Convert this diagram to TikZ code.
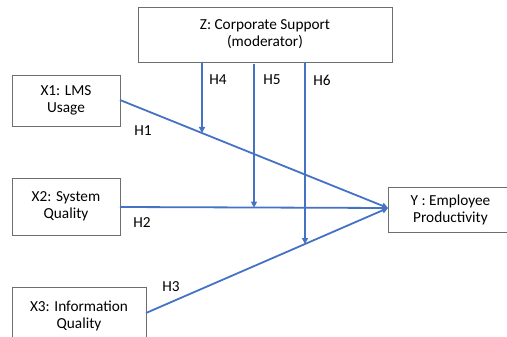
\documentclass[tikz,border=0pt]{standalone}
\usepackage{fontspec}
\setmainfont{Carlito}
\usetikzlibrary{arrows.meta}
\definecolor{lineblue}{RGB}{68,114,196}
\definecolor{boxgray}{RGB}{110,110,110}
\begin{document}
\begin{tikzpicture}[x=1pt,y=-1pt,
  box/.style={draw=boxgray,line width=0.8pt,fill=white,align=center,font=\fontsize{15.3}{17}\selectfont,inner sep=0pt},
  conn/.style={draw=lineblue,line width=1.8pt,-{Triangle[length=6pt,width=6pt]}},
  lab/.style={font=\fontsize{15.3}{17}\selectfont,inner sep=0pt}]
\useasboundingbox (0,0) rectangle (507,337);
\node[box,minimum width=254pt,minimum height=55pt] (Z) at (265,34.5) {Z: Corporate Support\\(moderator)};
\node[box,minimum width=108pt,minimum height=51pt] (X1) at (66,100.5) {X1: LMS\\Usage};
\node[box,minimum width=108pt,minimum height=57pt] (X2) at (66,206.5) {X2: System\\Quality};
\node[box,minimum width=134pt,minimum height=57pt] (X3) at (79,315.5) {X3: Information\\Quality};
\node[box,minimum width=125pt,minimum height=45pt] (Y) at (450.5,209.5) {Y : Employee\\Productivity};
\coordinate (X1e) at (120,100);
\coordinate (X2e) at (120,207);
\coordinate (X3e) at (146,313);
\coordinate (Yt) at (388,208);
\draw[conn] (X1e) -- (Yt);
\draw[conn] (X2e) -- (Yt);
\draw[conn] (X3e) -- (Yt);
\coordinate (m4) at (202,133);
\coordinate (m5) at (254,207.6);
\coordinate (m6) at (305,244);
\draw[conn] (202,62) -- (m4);
\draw[conn] (254,64) -- (m5);
\draw[conn] (305,62) -- (m6);
\node[lab] (h4) at (218,80) {H4};
\node[lab] (h5) at (272,80) {H5};
\node[lab] (h6) at (322,80) {H6};
\node[lab] (h1) at (143,131) {H1};
\node[lab] (h2) at (142,223) {H2};
\node[lab] (h3) at (171,287) {H3};
\end{tikzpicture}
\end{document}
